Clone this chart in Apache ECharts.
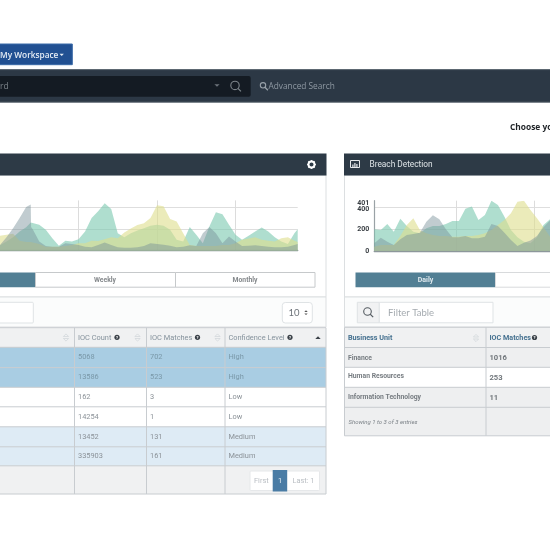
<!DOCTYPE html>
<html><head><meta charset="utf-8">
<style>html,body{margin:0;padding:0;background:#fff}#c{width:550px;height:550px;filter:blur(.45px)}</style>
<script src="https://cdn.jsdelivr.net/npm/echarts@6/dist/echarts.min.js"></script>
</head><body><div id="c"></div>
<script>
// ---- data: threat chart (left)
const threatX = [0,1,2,3,4,4.7,4.75,5,6,7,8,9,10,11,12,13,14,15,16,17,18,19,20,21,22,23,24,25,26,27,28,29,30,31,32,33,34,35,36,37,38,39,40,41,42,43,44,45,45.5];
const threatTeal = [50,83,123,175,215,259,259,252,237,191,114,46,92,83,105,175,299,360,434,382,160,123,160,185,206,228,237,228,191,99,83,216,145,68,222,351,333,237,145,99,136,175,212,175,123,83,62,160,197];
const threatYellow = [136,145,154,92,80,80,80,80,62,37,37,37,43,52,68,68,92,89,105,123,114,166,203,234,252,299,416,407,290,268,160,52,43,43,43,43,52,52,68,99,111,123,99,92,83,114,123,92,80];
const threatGrey = [52,123,206,299,400,422,216,197,83,43,37,37,68,62,52,37,31,52,74,52,31,28,28,31,43,68,62,55,46,31,37,49,43,160,216,160,68,129,83,43,46,49,43,37,31,31,37,52,62];
// ---- data: breach detection chart (right)
const breachX = [0,1,2,3,4,5,6,7,8,9,10,11,12,13,14,15,16,17,18,19,20,21,22,23,24,25,26,27];
const breachTeal = [198,192,247,177,296,229,177,162,207,229,229,247,274,274,387,406,284,329,460,421,314,192,125,85,70,125,238,290];
const breachYellow = [40,55,55,55,137,238,299,192,162,146,137,137,131,131,137,137,146,162,192,238,284,345,451,460,375,299,217,131];
const breachGrey = [70,122,85,55,107,146,156,168,268,326,290,198,125,125,137,116,116,131,247,229,168,101,46,76,95,137,217,278];
const breachTicks = [0,200,382];
const breachTickLabels = ['0','200','400'];
const breachMaxTick = [435];
const breachMaxLabel = '401';
// ---- data: tables and labels
const threatHeaders = ['IOC Count','IOC Matches','Confidence Level'];
const threatRows = [['5068','702','High'],['13586','523','High'],['162','3','Low'],['14254','1','Low'],['13452','131','Medium'],['335903','161','Medium']];
const breachHeaders = ['Business Unit','IOC Matches'];
const breachRows = [['Finance','1016'],['Human Resources','253'],['Information Technology','11']];
const tabs = ['Daily','Weekly','Monthly'];

const zip = (xs, ys) => xs.map((x, i) => [x, ys[i]]);
const g = [];
const F = 'Roboto, sans-serif';
const rect = (x, y, w, h, fill, stroke, r) => g.push({type:'rect', shape:{x, y, width:w, height:h, r:r||0}, style:{fill:fill||'none', stroke:stroke||null, lineWidth:stroke?1:0}});
const text = (x, y, t, size, fill, opt) => g.push({type:'text', x, y:y+.5, style:Object.assign({text:t, font:(opt&&opt.font)||`${size}px ${F}`, fill, textAlign:(opt&&opt.align)||'left', textVerticalAlign:'middle'})});
const circ = (cx, cy, r, fill, stroke, lw) => g.push({type:'circle', shape:{cx, cy, r}, style:{fill:fill||'none', stroke:stroke||null, lineWidth:lw||0}});
const line = (x1, y1, x2, y2, c, lw) => g.push({type:'line', shape:{x1, y1, x2, y2}, style:{stroke:c, lineWidth:lw||1}});
const tri = (x, y, up, s, c, outline) => g.push({type:'polygon', shape:{points:up?[[x-s,y],[x+s,y],[x,y-s]]:[[x-s,y],[x+s,y],[x,y+s]]}, style:outline?{fill:'none',stroke:c,lineWidth:.7}:{fill:c}});
const sortIcon = (x, y) => { tri(x, y-1, true, 2.6, '#cfd4d8', true); tri(x, y+1, false, 2.6, '#cfd4d8', true); };
const help = (x, y) => { circ(x, y, 2.6, '#3a4148'); text(x, y-.3, '?', 4, '#fff', {align:'center', font:`bold 4px ${F}`}); };
const searchIcon = (x, y, c, r) => { circ(x, y, r||3.8, null, c, 1.1); const d=(r||3.8)*.7; line(x+d, y+d, x+d+3, y+d+3, c, 1.3); };
const gear = (x, y) => {
  for (let a = 0; a < 8; a++) { const t = a*Math.PI/4; line(x+Math.cos(t)*2.5, y+Math.sin(t)*2.5, x+Math.cos(t)*4.4, y+Math.sin(t)*4.4, '#fff', 1.7); }
  circ(x, y, 3, null, '#fff', 1.9);
};

// top bar
rect(-2, 44, 74.3, 20.7, '#215092', '#3a6aa8');
text(0, 54.8, 'My Workspace', 8.4, '#e6edf5', {font:'600 8.3px "Open Sans", sans-serif'});
tri(61.7, 53.8, false, 2.2, '#e6edf5');
rect(-2, 69.3, 554, 33, '#2c3845');
line(0, 69.6, 550, 69.6, '#5d6873', 1);
line(0, 102.3, 550, 102.3, '#6a747d', 1);
rect(-4, 76, 254.7, 20.7, '#141b23', null, 2);
text(0, 85.9, 'rd', 8, '#7b8389', {font:'8.5px "Open Sans", sans-serif'});
tri(217, 84.2, false, 2.6, '#6c737a');
searchIcon(235, 85.4, '#7d858b', 4.2);
searchIcon(263, 85.3, '#98a1a9', 2.7);
text(268.5, 85.8, 'Advanced Search', 8.3, '#8f99a3', {font:'8.3px "Open Sans", sans-serif'});
text(510, 127.3, 'Choose your', 8.5, '#1e2226', {font:'700 8.4px "Open Sans", sans-serif'});

// left panel
rect(-2, 175, 328, 122, '#fff', '#dcdfe1');
rect(-2, 153.5, 328.5, 22, '#2d3a46');
gear(311.5, 164.5);
rect(-2, 272.5, 37.5, 14.7, '#527f94');
rect(35.5, 272.5, 140, 14.7, '#fff', '#c6c9cb');
rect(175.5, 272.5, 139.5, 14.7, '#fff', '#c6c9cb');
text(105, 280, tabs[1], 7, '#85898c', {align:'center', font:`bold 6.8px ${F}`});
text(245, 280, tabs[2], 7, '#85898c', {align:'center', font:`bold 6.8px ${F}`});
rect(-2, 297, 328, 30, '#fbfcfc', '#dcdfe1');
rect(-2, 302.3, 35.3, 20.7, '#fff', '#dfe3e5', 1);
rect(282.3, 302.5, 30, 20.5, '#fff', '#dfe3e5', 3);
text(288.5, 312.7, '10', 9.5, '#6d7379', {font:'9.5px Lato, sans-serif'});
tri(306, 312, true, 1.7, '#555'); tri(306, 313.4, false, 1.7, '#555');

// left table
const lc = [-2, 74.5, 146.5, 225, 326];
const lr = [327.7, 347.3, 367.6, 387.3, 406.8, 426.8, 446.8, 465.8, 494];
const lf = ['#a9cde3','#a9cde3','#fff','#fff','#deebf5','#deebf5'];
rect(-2, lr[0], 328, lr[1]-lr[0], '#f0f1f2');
threatRows.forEach((row, i) => {
  rect(-2, lr[i+1], 328, lr[i+2]-lr[i+1], lf[i]);
  row.forEach((v, j) => text(lc[j+1]+3.5, (lr[i+1]+lr[i+2])/2-.3, v, 7.4, i<2?'#7a98a8':'#8b9298', {font:`7.4px ${F}`}));
});
rect(-2, lr[7], 328, lr[8]-lr[7], '#f0f1f2');
lr.forEach(y => line(-2, y, 326, y, '#c8ccd0'));
lc.slice(1).forEach(x => line(x, lr[0], x, lr[8], '#c8ccd0'));
threatHeaders.forEach((h, j) => text(lc[j+1]+3.5, 337.3, h, 7.4, '#85929c', {font:`7.4px ${F}`}));
sortIcon(66, 337.5); sortIcon(137.5, 337.5); sortIcon(217.5, 337.5);
help(117, 337.3); help(197.5, 337.3); help(290, 337.3);
tri(318, 339, true, 2.7, '#3a4148');
rect(250, 471, 69.5, 19.5, '#fff', '#e6e8ea', 1);
text(254, 480.5, 'First', 7.4, '#b9bec3', {font:`7.4px ${F}`});
text(292.5, 480.5, 'Last: 1', 7.4, '#b9bec3', {font:`7.4px ${F}`});
rect(272.7, 470, 14.5, 21.5, '#4a7ca5');
text(280, 480.5, '1', 7.4, '#e8f0f5', {align:'center', font:`7.4px ${F}`});

// right panel
rect(344.5, 175, 210, 122, '#fff', '#dcdfe1');
rect(344, 153.5, 210, 22, '#2d3a46');
rect(350.5, 160.5, 9, 7, null, '#e6e9eb');
rect(352.3, 164.5, 1.2, 2.5, '#e6e9eb'); rect(354.3, 163, 1.2, 4, '#e6e9eb'); rect(356.3, 164, 1.2, 3, '#e6e9eb');
text(369.5, 164.2, 'Breach Detection', 8.3, '#dfe4e7', {font:`8.3px ${F}`});
rect(355.5, 272.5, 140, 14.7, '#527f94');
rect(495.5, 272.5, 60, 14.7, '#fff', '#d8dadc');
text(425.5, 280, tabs[0], 7, '#dfe9ee', {align:'center', font:`bold 7px ${F}`});
rect(344.5, 297, 210, 30, '#fbfcfc', '#dcdfe1');
rect(357.3, 302.3, 22, 20.5, '#f1f2f3', '#dfe3e5');
rect(379.3, 302.3, 113.7, 20.5, '#fff', '#dfe3e5');
searchIcon(367.5, 311.5, '#555c62');
text(388, 312.5, 'Filter Table', 9.5, '#a5abb0', {font:'9.5px Lato, sans-serif'});

// right table
const rr = [327.3, 347.5, 367.3, 387.3, 407.3, 435.8];
[ '#f0f1f2','#eeeff0','#fff','#eeeff0','#eeeff0' ].forEach((f, i) => rect(344.5, rr[i], 210, rr[i+1]-rr[i], f));
rr.forEach(y => line(344.5, y, 550, y, '#c8ccd0'));
line(344.5, rr[0], 344.5, rr[5], '#c8ccd0');
line(486, rr[0], 486, rr[5], '#c8ccd0');
text(348, 337.7, breachHeaders[0], 7.2, '#44708f', {font:`bold 7.2px ${F}`});
text(489.5, 337.7, breachHeaders[1], 7.2, '#44708f', {font:`bold 7.2px ${F}`});
sortIcon(476, 338); help(534.5, 337.5);
breachRows.forEach((row, i) => {
  const dy = i===1 ? -1.5 : 0;
  text(348, (rr[i+1]+rr[i+2])/2+dy, row[0], 7.2, '#767c81', {font:`bold 6.8px ${F}`});
  text(489.5, (rr[i+1]+rr[i+2])/2, row[1], 7.8, '#70767b', {font:`bold 7.6px ${F}`});
});
text(348.5, 421.5, 'Showing 1 to 3 of 3 entries', 6, '#7b8187', {font:`italic 6px ${F}`});

const COL = {teal:'rgba(126,201,178,.62)', yellow:'rgba(222,222,140,.6)', grey:'rgba(118,142,150,.45)'};
const area = (name, xi, yi, data, c, z) => ({type:'line', name, xAxisIndex:xi, yAxisIndex:yi, data, symbol:'none', lineStyle:{width:0}, areaStyle:{color:c, opacity:1}, silent:true, animation:false, z, clip:true});
const splitX = {show:true, lineStyle:{color:'#dcdcdc', width:1}};
const splitY = {show:true, lineStyle:{color:'#dedede', width:1.2}};
const labelStyle = {show:true, margin:5, fontSize:7, fontWeight:'bold', color:'#3a3f44', hideOverlap:false};

const chart = echarts.init(document.getElementById('c'), null, {renderer:'canvas', width:550, height:550});
chart.setOption({
  animation:false,
  textStyle:{fontFamily:F},
  graphic:{elements:g},
  grid:[
    {left:-1.6, top:200.4, width:299.3, height:50.3},
    {left:374.3, top:200.7, width:177.7, height:50.3}
  ],
  xAxis:[
    {type:'value', gridIndex:0, min:0, max:45.5, axisLabel:{show:false}, axisTick:{show:false, customValues:[12,24,36]}, axisLine:{lineStyle:{color:'#8d979b', width:1.4}}, splitLine:splitX},
    {type:'value', gridIndex:1, min:0, max:27, axisLabel:{show:false}, axisTick:{show:false, customValues:[12.64,24.6]}, axisLine:{lineStyle:{color:'#8d979b', width:1.4}}, splitLine:splitX}
  ],
  yAxis:[
    {type:'value', gridIndex:0, min:0, max:460, axisLabel:{show:false}, axisTick:{show:false, customValues:[200,400]}, axisLine:{show:false}, splitLine:splitY},
    {type:'value', gridIndex:1, min:0, max:460,
      axisLabel:Object.assign({}, labelStyle, {customValues:breachTicks, formatter:v=>breachTickLabels[breachTicks.indexOf(v)]}),
      axisTick:{show:false, customValues:[200,400]}, axisLine:{show:true, lineStyle:{color:'#9aa2a6', width:1.2}}, splitLine:splitY},
    {type:'value', gridIndex:1, position:'left', min:0, max:460,
      axisLabel:Object.assign({}, labelStyle, {customValues:breachMaxTick, formatter:()=>breachMaxLabel}),
      axisTick:{show:false}, axisLine:{show:false}, splitLine:{show:false}}
  ],
  series:[
    area('Teal',0,0,zip(threatX,threatTeal),COL.teal,2),
    area('Yellow',0,0,zip(threatX,threatYellow),COL.yellow,3),
    area('Grey',0,0,zip(threatX,threatGrey),COL.grey,4),
    area('Teal',1,1,zip(breachX,breachTeal),COL.teal,2),
    area('Yellow',1,1,zip(breachX,breachYellow),COL.yellow,3),
    area('Grey',1,1,zip(breachX,breachGrey),COL.grey,4)
  ]
});
</script></body></html>
